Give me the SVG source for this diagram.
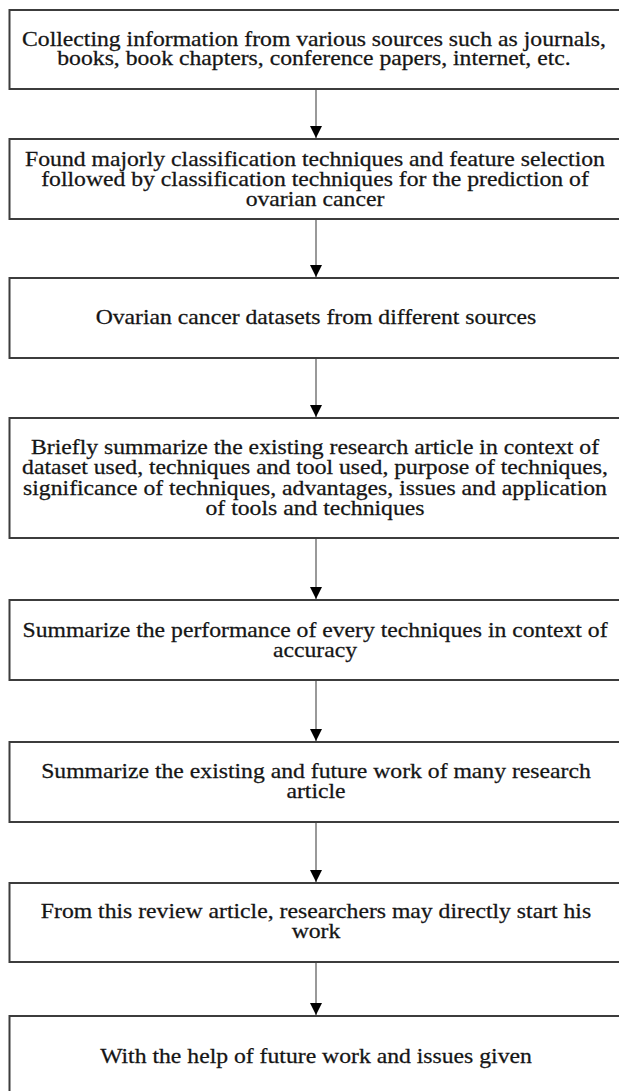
<svg xmlns="http://www.w3.org/2000/svg" width="619" height="1091" viewBox="0 0 619 1091">
<style>
.box{fill:#fff;stroke:#3c3c3c;stroke-width:2}
.edge{stroke:#555;stroke-width:1.2;fill:none}
.t{font-family:"Liberation Serif","Times New Roman",serif;font-size:20px;fill:#151515;stroke:#151515;stroke-width:0.25;text-anchor:middle}
</style>
<defs>
<marker id="ah" markerWidth="12" markerHeight="12" viewBox="0 0 12 12" refX="12" refY="6" orient="auto" markerUnits="userSpaceOnUse">
<path d="M0,0 L12,6 L0,12 Z" fill="#000"/>
</marker>
</defs>
<rect width="619" height="1091" fill="#fff"/>
<g id="connectors">
<line class="edge" x1="316" y1="90" x2="316" y2="138" marker-end="url(#ah)"/>
<line class="edge" x1="316" y1="219" x2="316" y2="277" marker-end="url(#ah)"/>
<line class="edge" x1="316" y1="358" x2="316" y2="417" marker-end="url(#ah)"/>
<line class="edge" x1="316" y1="538" x2="316" y2="599" marker-end="url(#ah)"/>
<line class="edge" x1="316" y1="680" x2="316" y2="741" marker-end="url(#ah)"/>
<line class="edge" x1="316" y1="822" x2="316" y2="882" marker-end="url(#ah)"/>
<line class="edge" x1="316" y1="962" x2="316" y2="1015" marker-end="url(#ah)"/>
</g>
<g id="n1">
<rect class="box" x="9.5" y="10" width="620" height="79"/>
<g transform="translate(314 0) scale(1.185 1)">
<text class="t" x="0" y="46">Collecting information from various sources such as journals,</text>
<text class="t" x="0" y="65.5">books, book chapters, conference papers, internet, etc.</text>
</g>
</g>
<g id="n2">
<rect class="box" x="9.5" y="139" width="620" height="80"/>
<g transform="translate(315 0) scale(1.185 1)">
<text class="t" x="0" y="166">Found majorly classification techniques and feature selection</text>
<text class="t" x="0" y="186">followed by classification techniques for the prediction of</text>
<text class="t" x="0" y="206">ovarian cancer</text>
</g>
</g>
<g id="n3">
<rect class="box" x="9.5" y="278" width="620" height="80"/>
<g transform="translate(316 0) scale(1.185 1)">
<text class="t" x="0" y="324">Ovarian cancer datasets from different sources</text>
</g>
</g>
<g id="n4">
<rect class="box" x="9.5" y="418" width="620" height="120"/>
<g transform="translate(315 0) scale(1.185 1)">
<text class="t" x="0" y="454">Briefly summarize the existing research article in context of</text>
<text class="t" x="0" y="474.5">dataset used, techniques and tool used, purpose of techniques,</text>
<text class="t" x="0" y="495">significance of techniques, advantages, issues and application</text>
<text class="t" x="0" y="515.5">of tools and techniques</text>
</g>
</g>
<g id="n5">
<rect class="box" x="9.5" y="600" width="620" height="80"/>
<g transform="translate(315 0) scale(1.185 1)">
<text class="t" x="0" y="637">Summarize the performance of every techniques in context of</text>
<text class="t" x="0" y="657">accuracy</text>
</g>
</g>
<g id="n6">
<rect class="box" x="9.5" y="742" width="620" height="80"/>
<g transform="translate(316 0) scale(1.185 1)">
<text class="t" x="0" y="778">Summarize the existing and future work of many research</text>
<text class="t" x="0" y="798">article</text>
</g>
</g>
<g id="n7">
<rect class="box" x="9.5" y="883" width="620" height="79"/>
<g transform="translate(316 0) scale(1.185 1)">
<text class="t" x="0" y="918">From this review article, researchers may directly start his</text>
<text class="t" x="0" y="938">work</text>
</g>
</g>
<g id="n8">
<rect class="box" x="9.5" y="1016" width="620" height="90"/>
<g transform="translate(316 0) scale(1.185 1)">
<text class="t" x="0" y="1063">With the help of future work and issues given</text>
</g>
</g>
</svg>
